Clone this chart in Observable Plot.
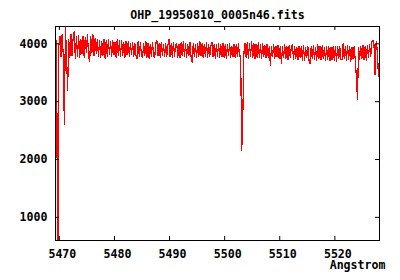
<!DOCTYPE html>
<html><head><meta charset="utf-8">
<script src="https://cdn.jsdelivr.net/npm/d3@7"></script>
<script src="https://cdn.jsdelivr.net/npm/@observablehq/plot@0.6"></script>
<style>
body{margin:0;background:#fff}
svg text{font-family:"DejaVu Sans Mono",monospace;font-weight:bold}
</style></head><body><div id="chart"></div>
<script>
const title = "OHP_19950810_0005n46.fits";
const xLabel = "Angstrom";
const xTicks = [5470, 5480, 5490, 5500, 5510, 5520];
const yTicks = [1000, 2000, 3000, 4000];

const wavelength = [
5469.3,5469.5,5469.7,5469.9,5470.1,5470.3,5470.5,5470.7,5470.9,5471.1,
5471.3,5471.5,5471.7,5471.9,5472.1,5472.3,5472.5,5472.7,5472.9,5473.1,
5473.3,5473.5,5473.7,5473.9,5474.1,5474.3,5474.5,5474.7,5474.9,5475.1,
5475.3,5475.5,5475.7,5475.9,5476.1,5476.3,5476.5,5476.7,5476.9,5477.1,
5477.3,5477.5,5477.7,5477.9,5478.1,5478.3,5478.5,5478.7,5478.9,5479.1,
5479.3,5479.5,5479.7,5479.9,5480.1,5480.3,5480.5,5480.7,5480.9,5481.1,
5481.3,5481.5,5481.7,5481.9,5482.1,5482.3,5482.5,5482.7,5482.9,5483.1,
5483.3,5483.5,5483.7,5483.9,5484.1,5484.3,5484.5,5484.7,5484.9,5485.1,
5485.3,5485.5,5485.7,5485.9,5486.1,5486.3,5486.5,5486.7,5486.9,5487.1,
5487.3,5487.5,5487.7,5487.9,5488.1,5488.3,5488.5,5488.7,5488.9,5489.1,
5489.3,5489.5,5489.7,5489.9,5490.1,5490.3,5490.5,5490.7,5490.9,5491.1,
5491.3,5491.5,5491.7,5491.9,5492.1,5492.3,5492.5,5492.7,5492.9,5493.1,
5493.3,5493.5,5493.7,5493.9,5494.1,5494.3,5494.5,5494.7,5494.9,5495.1,
5495.3,5495.5,5495.7,5495.9,5496.1,5496.3,5496.5,5496.7,5496.9,5497.1,
5497.3,5497.5,5497.7,5497.9,5498.1,5498.3,5498.5,5498.7,5498.9,5499.1,
5499.3,5499.5,5499.7,5499.9,5500.1,5500.3,5500.5,5500.7,5500.9,5501.1,
5501.3,5501.5,5501.7,5501.9,5502.1,5502.3,5502.5,5502.7,5502.9,5503.1,
5503.3,5503.5,5503.7,5503.9,5504.1,5504.3,5504.5,5504.7,5504.9,5505.1,
5505.3,5505.5,5505.7,5505.9,5506.1,5506.3,5506.5,5506.7,5506.9,5507.1,
5507.3,5507.5,5507.7,5507.9,5508.1,5508.3,5508.5,5508.7,5508.9,5509.1,
5509.3,5509.5,5509.7,5509.9,5510.1,5510.3,5510.5,5510.7,5510.9,5511.1,
5511.3,5511.5,5511.7,5511.9,5512.1,5512.3,5512.5,5512.7,5512.9,5513.1,
5513.3,5513.5,5513.7,5513.9,5514.1,5514.3,5514.5,5514.7,5514.9,5515.1,
5515.3,5515.5,5515.7,5515.9,5516.1,5516.3,5516.5,5516.7,5516.9,5517.1,
5517.3,5517.5,5517.7,5517.9,5518.1,5518.3,5518.5,5518.7,5518.9,5519.1,
5519.3,5519.5,5519.7,5519.9,5520.1,5520.3,5520.5,5520.7,5520.9,5521.1,
5521.3,5521.5,5521.7,5521.9,5522.1,5522.3,5522.5,5522.7,5522.9,5523.1,
5523.3,5523.5,5523.7,5523.9,5524.1,5524.3,5524.5,5524.7,5524.9,5525.1,
5525.3,5525.5,5525.7,5525.9,5526.1,5526.3,5526.5,5526.7,5526.9,5527.1,
5527.3,5527.5,5527.7,5527.9,5528.1
];

const flux = [
3300,4050,-300,3960,4130,3780,4160,3820,2610,4290,
3800,3200,4080,3760,4170,3800,4100,4220,3740,4120,
3790,4150,3760,4080,3830,4130,3770,4110,3850,4160,
3790,3700,4120,3850,4155,3800,4100,3840,4080,3780,
4060,3760,4040,3800,4080,3750,4050,3790,4070,3820,
4040,3780,4060,3810,4030,3770,4070,3800,4050,3790,
4060,3800,4020,3770,4050,3810,4040,3790,4000,3820,
4030,3780,4010,3800,3750,4040,3790,4020,3810,3760,
4000,3800,4040,3770,4010,3750,3990,3780,4030,3800,
3760,4020,4050,3790,4000,3770,4030,3800,3990,3780,
4010,3790,3980,4075,3780,4000,3770,4030,3790,3990,
4010,3770,3990,3760,4020,3790,4040,3780,4000,3760,
3990,3790,4030,3770,3680,4000,3780,3990,3760,4010,
3780,4035,3790,4000,3760,3990,3780,4020,3770,3980,
3790,3970,4030,3780,3990,3750,3980,3790,4000,3760,
3980,3780,4010,3770,3990,3740,3980,3800,4000,3770,
3960,3780,4000,3760,3990,3790,4010,3780,3800,2160,
2780,3850,4010,3770,4030,3740,4000,3790,4040,3760,
4000,3740,3990,3770,4020,3760,3980,3750,4000,3780,
3970,3760,3990,3770,3950,3630,3960,3780,3990,3750,
3960,3770,3980,3740,3960,3660,3950,3760,3980,3740,
3950,3720,3970,3760,3940,3990,3730,3960,3750,3940,
3730,3960,3770,3950,3720,3970,3710,3940,3760,3960,
3720,3650,3950,3740,3970,3730,3940,3720,3995,3750,
3950,3730,3970,3740,3940,3710,3960,3730,3950,3710,
3940,3730,3960,3720,3950,3700,3960,3740,3950,3730,
3720,4010,3740,3960,3710,3970,3730,3950,3700,3940,
3740,3960,3720,3430,3040,3940,3730,3960,3740,3970,
3730,3950,3720,3970,3760,3990,3780,4030,4060,3990,
3470,4040,3900,3440,3800
];

const data = wavelength.map((w, i) => ({w, f: flux[i]}));
const W = 400, H = 280, mL = 55, mR = 21, mT = 26, mB = 40;
const fw = W - mL - mR, fh = H - mT - mB;

const plot = Plot.plot({
  width: W, height: H,
  marginLeft: mL, marginRight: mR, marginTop: mT, marginBottom: mB,
  style: {fontFamily: "DejaVu Sans Mono", fontSize: "11.6px", fontWeight: "bold", background: "#fff", color: "#000"},
  x: {domain: [5469.3, 5528.1]},
  y: {domain: [600, 4300]},
  marks: [
    Plot.line(data, {x: "w", y: "f", stroke: "#ff0000", strokeWidth: 1.2, clip: true, shapeRendering: "crispEdges"}),
    Plot.frame({stroke: "#000", shapeRendering: "crispEdges"}),
    Plot.tickX(xTicks, {x: d => d, insetTop: fh - 4, stroke: "#000"}),
    Plot.tickX(xTicks, {x: d => d, insetBottom: fh - 4, stroke: "#000"}),
    Plot.tickY(yTicks, {y: d => d, insetRight: fw - 4, stroke: "#000"}),
    Plot.tickY(yTicks, {y: d => d, insetLeft: fw - 4, stroke: "#000"}),
    Plot.axisX(xTicks, {tickSize: 0, tickPadding: 9, dx: 3, label: null, tickFormat: d => String(d)}),
    Plot.axisY(yTicks, {tickSize: 0, tickPadding: 8, label: null, tickFormat: d => String(d)}),
    Plot.text([title], {frameAnchor: "top", lineAnchor: "bottom", dy: -8, text: d => d, fill: "#000"}),
    Plot.text([xLabel], {frameAnchor: "bottom-right", textAnchor: "end", lineAnchor: "bottom", dx: 6, dy: 28, text: d => d, fill: "#000"})
  ]
});
document.getElementById("chart").appendChild(plot);
</script>
</body></html>
